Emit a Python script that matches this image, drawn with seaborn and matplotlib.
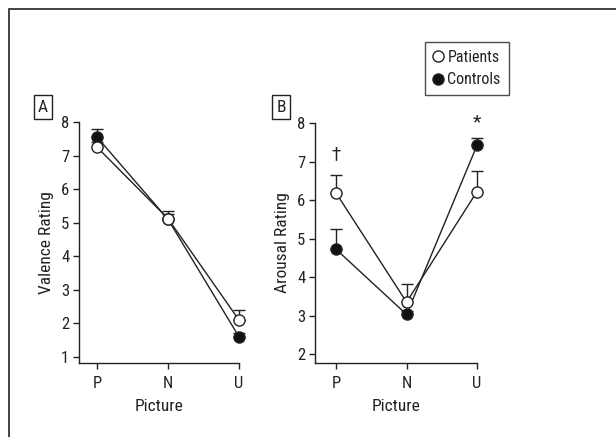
import matplotlib
matplotlib.use("Agg")
import matplotlib.pyplot as plt
import seaborn as sns
import pandas as pd
import numpy as np
from matplotlib.patches import Rectangle
from matplotlib.lines import Line2D
from matplotlib import font_manager

sns.set_theme(style="ticks")
names = {f.name for f in font_manager.fontManager.ttflist}
fam = None
for cand in ["Liberation Sans Narrow", "Roboto Condensed", "Open Sans Condensed", "Arial Narrow"]:
    if cand in names:
        fam = cand
        break
if fam is None:
    fam = 'Liberation Sans'
plt.rcParams['font.family'] = [fam, 'DejaVu Sans']

pictures = ["P", "N", "U"]
groups = ["Patients", "Controls"]
valence_patients = [7.25, 5.12, 2.10]
valence_patients_err = [0.15, 0.23, 0.30]
valence_controls = [7.55, 5.10, 1.60]
valence_controls_err = [0.23, 0.15, 0.10]
arousal_patients = [6.18, 3.35, 6.22]
arousal_patients_err = [0.47, 0.47, 0.53]
arousal_controls = [4.72, 3.03, 7.42]
arousal_controls_err = [0.53, 0.08, 0.18]

W, H = 616, 437
fig = plt.figure(figsize=(W / 100, H / 100), dpi=100)
fig.patch.set_facecolor("white")

def ax_rect(l, r, t, b):
    return [l / W, 1 - b / H, (r - l) / W, (b - t) / H]

axA = fig.add_axes(ax_rect(79, 239, 122, 363))
axB = fig.add_axes(ax_rect(315, 477, 123, 363))

LC = "#222222"
FS = 12

def draw(ax, pv, pe, cv, ce, ylabel, ylim, xlim, yticks):
    df = pd.DataFrame({
        "x": list(range(3)) * 2,
        "value": list(pv) + list(cv),
        "err": list(pe) + list(ce),
        "group": [groups[0]] * 3 + [groups[1]] * 3,
    })
    for g in [groups[1], groups[0]]:
        d = df[df.group == g]
        ax.errorbar(d.x, d.value, yerr=[np.zeros(3), d.err.values], fmt="none",
                    ecolor=LC, elinewidth=1.0, capsize=4, capthick=1.0,
                    zorder=2, clip_on=False)
    sns.lineplot(data=df, x="x", y="value", hue="group", style="group",
                 palette={groups[0]: LC, groups[1]: LC},
                 markers={groups[0]: "o", groups[1]: "o"},
                 dashes={groups[0]: "", groups[1]: ""},
                 linewidth=1.0, legend=False, ax=ax, zorder=3)
    for line in ax.get_lines():
        line.set_clip_on(False)
    lines = [l for l in ax.get_lines() if len(l.get_xdata()) == 3]
    for l, g in zip(lines[-2:], groups):
        l.set_markersize(8)
        l.set_markeredgecolor(LC)
        l.set_markeredgewidth(1.0)
        l.set_markerfacecolor("white" if g == "Patients" else "#111111")
        l.set_zorder(4 if g == "Patients" else 3)
    ax.set_xlim(*xlim)
    ax.set_ylim(*ylim)
    ax.set_xticks(range(3))
    ax.set_xticklabels(pictures)
    ax.set_yticks(yticks)
    ax.set_yticklabels([str(t) for t in yticks])
    ax.set_xlabel("Picture", fontsize=FS + 0.5, color="#222222", labelpad=6)
    ax.set_ylabel(ylabel, fontsize=FS + 0.5, color="#222222", labelpad=5)
    ax.tick_params(axis="both", labelsize=FS, colors="#222222", length=4, width=1.0, direction="out")
    ax.tick_params(axis="x", pad=5)
    ax.tick_params(axis="y", pad=3)
    for s in ["top", "right"]:
        ax.spines[s].set_visible(False)
    for s in ["left", "bottom"]:
        ax.spines[s].set_color("#222222")
        ax.spines[s].set_linewidth(1.0)
    ax.set_facecolor("white")

draw(axA, valence_patients, valence_patients_err, valence_controls, valence_controls_err,
     "Valence Rating", (0.82, 8.0), (-0.254, 2.0), [1, 2, 3, 4, 5, 6, 7, 8])
draw(axB, arousal_patients, arousal_patients_err, arousal_controls, arousal_controls_err,
     "Arousal Rating", (1.77, 8.0), (-0.30, 2.0), [2, 3, 4, 5, 6, 7, 8])

axB.text(0, 7.2, "\u2020", ha="center", va="center", fontsize=FS + 1, color="#222222",
         family=['DejaVu Sans'])
axB.text(2, 8.02, "*", ha="center", va="center", fontsize=FS + 2, color="#222222")

for lab, x in [("A", 43), ("B", 281)]:
    fig.text(x / W, 1 - 107 / H, lab, ha="center", va="center", fontsize=FS + 0.5, color="#222222",
             bbox=dict(boxstyle="square,pad=0.25", facecolor="white", edgecolor="#222222", linewidth=1.0))

fig.add_artist(Rectangle((9 / W, -0.05), 1.2, 1 - 9 / H + 0.05, transform=fig.transFigure,
                         fill=False, edgecolor="#222222", linewidth=1.2))

handles = [
    Line2D([], [], marker="o", linestyle="none", markersize=8, markerfacecolor="white",
           markeredgecolor=LC, markeredgewidth=1.0, label="Patients"),
    Line2D([], [], marker="o", linestyle="none", markersize=8, markerfacecolor="#111111",
           markeredgecolor=LC, markeredgewidth=1.0, label="Controls"),
]
leg = fig.legend(handles=handles, loc="upper left", bbox_to_anchor=(425 / W, 1 - 42 / H),
                 frameon=True, fancybox=False, fontsize=FS - 0.5, handlelength=0.6,
                 handletextpad=0.3, borderpad=0.5, labelspacing=0.45, borderaxespad=0)
leg.get_frame().set_edgecolor("#222222")
leg.get_frame().set_linewidth(1.0)
for t in leg.get_texts():
    t.set_color("#222222")

fig.savefig("out.png", dpi=100, facecolor="white")
